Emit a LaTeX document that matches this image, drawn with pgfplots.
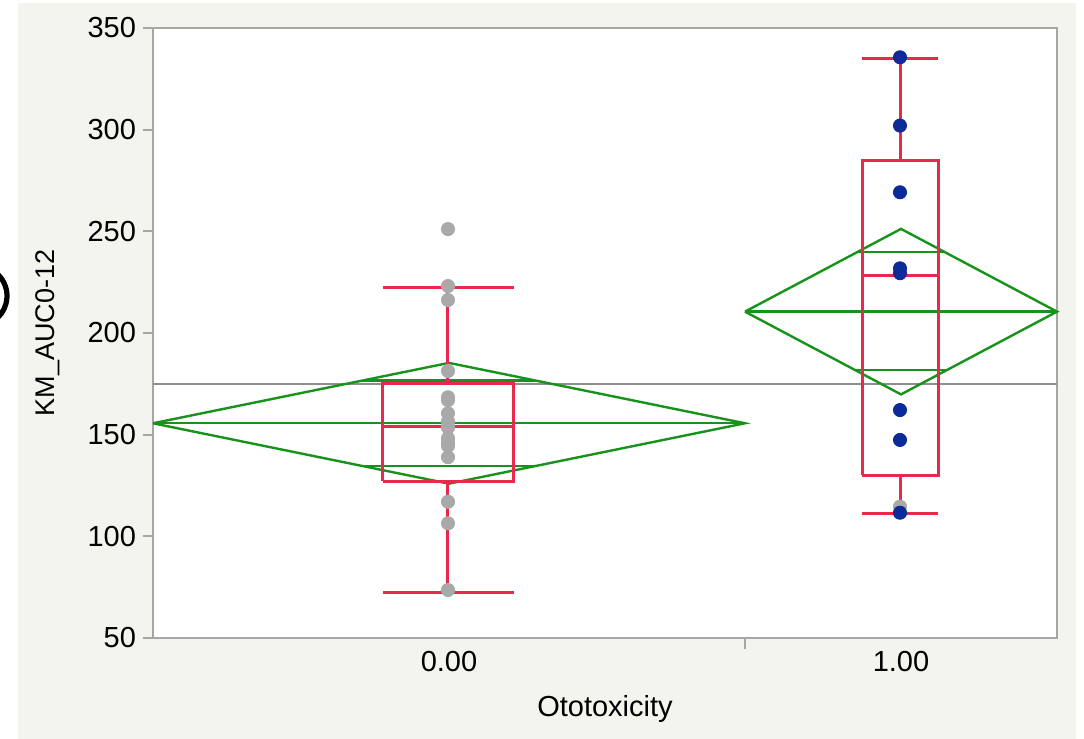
\documentclass[border=0pt]{standalone}
\usepackage{pgfplots}
\pgfplotsset{compat=1.18}
\usepackage{fontspec}
\setmainfont{Liberation Sans}
\definecolor{bgbeige}{HTML}{F4F4EF}
\definecolor{frame}{HTML}{A6A6A6}
\definecolor{gmean}{HTML}{8E8E8E}
\definecolor{jred}{HTML}{E8294C}
\definecolor{jgreen}{HTML}{17921A}
\definecolor{jblue}{HTML}{0B2C98}
\definecolor{jgrey}{HTML}{A9A9A9}
\begin{document}
\begin{tikzpicture}
\fill[white] (0,0) rectangle (542pt,369.5pt);
\fill[bgbeige] (9pt,0) rectangle (538pt,368pt);
\begin{scope}
\clip (0,0) rectangle (542pt,369.5pt);
\draw[black, line width=2.6pt] (-11.5pt,221.5pt) ++(-70:15pt) arc[start angle=-70, end angle=70, radius=15pt];
\end{scope}
\begin{axis}[
  at={(76.5pt,50.5pt)}, anchor=south west,
  scale only axis, width=452pt, height=305pt,
  xmin=153, xmax=1057, ymin=50, ymax=350,
  axis background/.style={fill=white},
  axis line style={draw=frame, line width=1.1pt},
  ytick={50,100,...,350},
  xtick={449,901}, xticklabels={0.00,1.00},
  every major x tick/.append style={draw=none},
  ytick pos=left, xtick pos=bottom,
  tick align=outside,
  major tick length=5pt,
  every major y tick/.append style={draw=frame, line width=1.1pt},
  tick label style={font=\fontsize{14.5}{16}\selectfont, text=black},
  /pgf/number format/assume math mode=true,
  yticklabel style={xshift=0pt},
  xticklabel style={yshift=2pt},
  xlabel={Ototoxicity}, ylabel={KM\_AUC0-12},
  label style={font=\fontsize{14.5}{16}\selectfont},
  xlabel style={at={(axis description cs:0.5,0)}, anchor=center, yshift=-35.5pt},
  ylabel style={at={(axis description cs:-0.1161,0.5)}, anchor=center, font=\fontsize{13.5}{15}\selectfont},
  clip=false,
]
% group 0 points
\addplot[only marks, mark=*, mark size=3.3pt, color=jgrey, mark options={draw=none, fill=jgrey}] coordinates {
(448,251.1) (448,223.1) (448,216.2) (448,181.3) (448,168.4) (448,167.0)
(448,160.5) (448,156.5) (448,153.5) (448,148.2) (448,146.0) (448,144.5)
(448,138.9) (448,117.0) (448,106.4) (448,73.6)
};
% group 1 hidden grey point
\addplot[only marks, mark=*, mark size=3.3pt, color=jgrey, mark options={draw=none, fill=jgrey}] coordinates {(900,114.6)};
% grand mean
\addplot[gmean, line width=1.2pt] coordinates {(153,174.8) (1057,174.8)};
% diamonds
\addplot[jgreen, line width=1.2pt] coordinates {(153,155.6) (449,185.3) (745,155.6) (449,125.9) (153,155.6)};
\addplot[jgreen, line width=1.2pt] coordinates {(153,155.6) (745,155.6)};
\addplot[jgreen, line width=1.2pt] coordinates {(362.6,176.6) (535.4,176.6)};
\addplot[jgreen, line width=1.2pt] coordinates {(362.6,134.6) (535.4,134.6)};
\addplot[jgreen, line width=1.2pt] coordinates {(745,210.5) (901,251.2) (1057,210.5) (901,169.8) (745,210.5)};
\addplot[jgreen, line width=1.2pt] coordinates {(745,210.5) (1057,210.5)};
\addplot[jgreen, line width=1.2pt] coordinates {(856,239.8) (946,239.8)};
\addplot[jgreen, line width=1.2pt] coordinates {(856,181.7) (946,181.7)};
% box plots
\addplot[jred, line width=1.5pt] coordinates {(383,127.2) (514,127.2) (514,175) (383,175) (383,127.2)};
\addplot[jred, line width=1.5pt] coordinates {(383,153.8) (514,153.8)};
\addplot[jred, line width=1.5pt] coordinates {(448,175) (448,222.3)};
\addplot[jred, line width=1.5pt] coordinates {(448,127.2) (448,72.3)};
\addplot[jred, line width=1.5pt] coordinates {(383,222.3) (514,222.3)};
\addplot[jred, line width=1.5pt] coordinates {(383,72.3) (514,72.3)};
\addplot[jred, line width=1.5pt] coordinates {(862,130) (938,130) (938,284.6) (862,284.6) (862,130)};
\addplot[jred, line width=1.5pt] coordinates {(862,228.4) (938,228.4)};
\addplot[jred, line width=1.5pt] coordinates {(900,284.6) (900,334.8)};
\addplot[jred, line width=1.5pt] coordinates {(900,130) (900,111.2)};
\addplot[jred, line width=1.5pt] coordinates {(862,334.8) (938,334.8)};
\addplot[jred, line width=1.5pt] coordinates {(862,111.2) (938,111.2)};
% group 1 points
\addplot[only marks, mark=*, mark size=3.3pt, color=jblue, mark options={draw=none, fill=jblue}] coordinates {
(900,335.6) (900,302.0) (900,269.2) (900,231.8) (900,229.4) (900,162.1) (900,147.4) (900,111.6)
};
\draw[frame, line width=1.1pt] (axis cs:745,50) -- ++(0pt,-5.5pt);
\end{axis}
\pgfresetboundingbox
\useasboundingbox (0,0) rectangle (542pt,369.5pt);
\end{tikzpicture}
\end{document}
